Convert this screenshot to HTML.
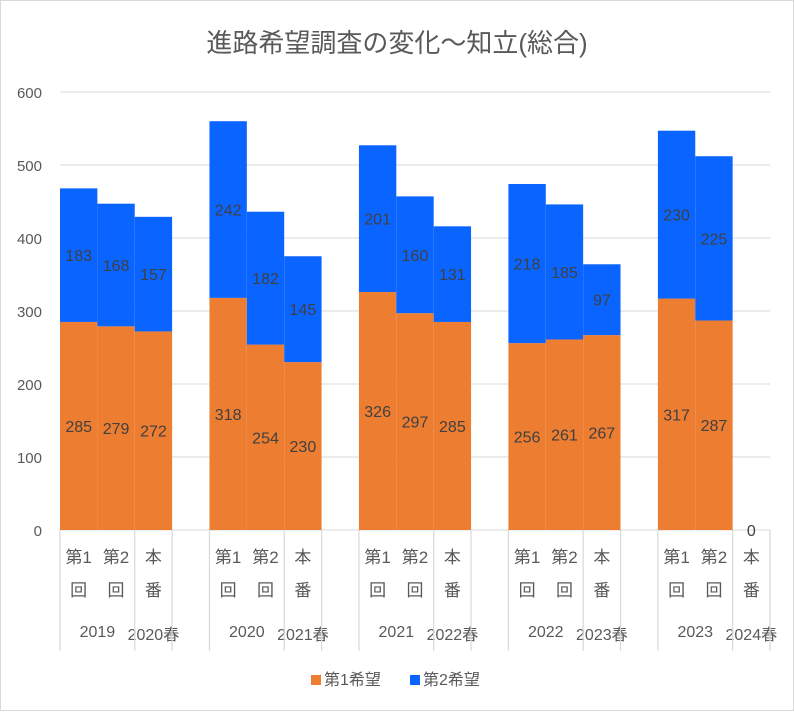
<!DOCTYPE html>
<html><head><meta charset="utf-8"><style>
body{margin:0;background:#fff}
svg text{font-family:"Liberation Sans","Noto Sans CJK JP",sans-serif}
</style></head><body>
<svg id="c" width="794" height="711" xmlns="http://www.w3.org/2000/svg">
<rect x="0.5" y="0.5" width="793" height="710" fill="#fff" stroke="#d9d9d9"/>
<text x="397" y="52" font-size="26" fill="#595959" text-anchor="middle">進路希望調査の変化～知立(総合)</text>
<g id="grid"></g><g id="bars"></g><g id="axis"></g>
<g>
<rect x="311" y="675" width="10" height="10" fill="#ed7d31"/>
<text x="324" y="685" font-size="16" fill="#595959">第1希望</text>
<rect x="410" y="675" width="10" height="10" fill="#0a64ff"/>
<text x="423" y="685" font-size="16" fill="#595959">第2希望</text>
</g>
</svg>
<script>
const years=["2019","2020","2021","2022","2023"];
const springs=["2020春","2021春","2022春","2023春","2024春"];
const first=[[285,279,272],[318,254,230],[326,297,285],[256,261,267],[317,287,0]];
const second=[[183,168,157],[242,182,145],[201,160,131],[218,185,97],[230,225,0]];
const yTicks=[0,100,200,300,400,500,600];
const NS="http://www.w3.org/2000/svg";
const x0=60,x1=770,y0=530,yTop=92,ymax=600;
const cw=(x1-x0)/19;
const Y=v=>y0-(v/ymax)*(y0-yTop);
const X=i=>x0+i*cw;
function mk(g,tag,a,txt){const e=document.createElementNS(NS,tag);for(const k in a)e.setAttribute(k,a[k]);if(txt!==undefined)e.textContent=txt;document.getElementById(g).appendChild(e);return e;}
yTicks.forEach(t=>{
 const l=mk('grid','line',{x1:x0,x2:x1,y1:Y(t),y2:Y(t),stroke:'#d9d9d9','stroke-width':1});
 
 
 const tx=mk('grid','text',{x:42,y:Y(t)+6,'font-size':15,fill:'#595959','text-anchor':'end'},t);
 
 
});
const sub=[["第1","回"],["第2","回"],["本","番"]];
years.forEach((yr,g)=>{
 for(let j=0;j<3;j++){
  const i=g*4+j,xl=X(i),v1=first[g][j],v2=second[g][j];
  const r1=mk('bars','rect',{x:xl,y:Y(v1),width:cw,height:Y(0)-Y(v1),fill:'#ed7d31'});
  
  
  const r2=mk('bars','rect',{x:xl,y:Y(v1+v2),width:cw,height:Y(v1)-Y(v1+v2),fill:'#0a64ff'});
  
  
  const cx=xl+cw/2;
  const l1=mk('bars','text',{x:cx,y:(Y(0)+Y(v1))/2+6,'font-size':16,fill:'#404040','text-anchor':'middle'},v1);
  
  
  if(v2>0){const l2=mk('bars','text',{x:cx,y:(Y(v1)+Y(v1+v2))/2+6,'font-size':16,fill:'#404040','text-anchor':'middle'},v2);
   
   }
  const s1=mk('axis','text',{x:cx,y:563,'font-size':17,fill:'#595959','text-anchor':'middle'},sub[j][0]);
  
  
  const s2=mk('axis','text',{x:cx,y:596,'font-size':17,fill:'#595959','text-anchor':'middle'},sub[j][1]);
  
  
 }
 const a=mk('axis','text',{x:X(g*4+1),y:637,'font-size':16,fill:'#595959','text-anchor':'middle'},yr);
 
 
 const b=mk('axis','text',{x:X(g*4+2.5),y:640,'font-size':16,fill:'#595959','text-anchor':'middle'},springs[g]);
 
 
 [0,2,3].forEach(k=>{const i=g*4+k;if(i>19)return;
  const l=mk('axis','line',{x1:X(i),x2:X(i),y1:y0,y2:651,stroke:'#d9d9d9','stroke-width':1.2});
  
  });
});
const z=mk('axis','line',{x1:X(19),x2:X(19),y1:y0,y2:651,stroke:'#d9d9d9','stroke-width':1.2});


</script>
</body></html>
